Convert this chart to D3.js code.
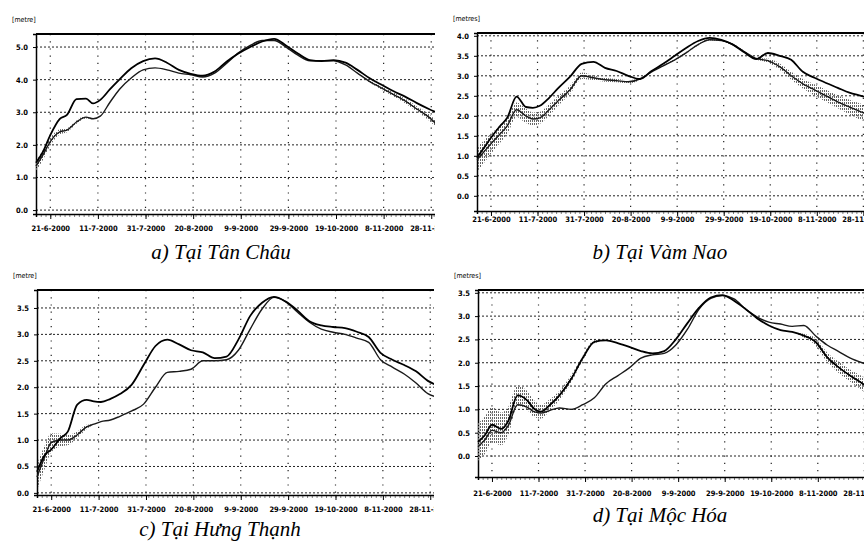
<!DOCTYPE html>
<html>
<head>
<meta charset="utf-8">
<script src="https://cdn.jsdelivr.net/npm/d3@7"></script>
<style>
  body { margin: 0; background: #fff; }
  svg { display: block; }
</style>
</head>
<body>
<svg id="chart" width="864" height="542"></svg>
<script>
// sample dates (year 2000), same for every station
const dates = ['15-6', '18-6', '21-6', '25-6', '28-6', '2-7', '6-7', '9-7', '12-7', '16-7',
  '20-7', '25-7', '30-7', '4-8', '9-8', '14-8', '19-8', '24-8', '29-8', '3-9',
  '8-9', '13-9', '18-9', '23-9', '28-9', '3-10', '8-10', '13-10', '18-10', '23-10',
  '28-10', '2-11', '7-11', '12-11', '17-11', '22-11', '27-11', '30-11']

// a) Tan Chau
const tanChau1 = [1.45, 1.8, 2.3, 2.8, 2.92, 3.4, 3.42, 3.27, 3.38, 3.7,
  4.0, 4.35, 4.57, 4.65, 4.52, 4.3, 4.18, 4.12, 4.25, 4.55,
  4.8, 5.0, 5.17, 5.25, 5.05, 4.8, 4.6, 4.57, 4.6, 4.52,
  4.3, 4.05, 3.85, 3.65, 3.48, 3.28, 3.1, 3.0]
const tanChau2 = [1.35, 1.7, 2.1, 2.4, 2.45, 2.7, 2.85, 2.8, 2.88, 3.3,
  3.7, 4.05, 4.3, 4.36, 4.3, 4.2, 4.15, 4.08, 4.2, 4.5,
  4.82, 5.05, 5.2, 5.2, 5.0, 4.75, 4.58, 4.58, 4.58, 4.45,
  4.2, 3.95, 3.75, 3.55, 3.35, 3.1, 2.85, 2.65]
// half width of the tidal scatter (m)
const tanChauTide = [0.15, 0.15, 0.12, 0.08, 0.06, 0.05, 0.04, 0, 0, 0,
  0, 0, 0, 0, 0, 0, 0, 0, 0, 0,
  0, 0, 0, 0, 0, 0, 0, 0, 0, 0,
  0, 0.03, 0.05, 0.06, 0.07, 0.08, 0.1, 0.1]

// b) Vam Nao
const vamNao1 = [0.95, 1.2, 1.45, 1.75, 1.95, 2.48, 2.22, 2.2, 2.25, 2.45,
  2.7, 2.98, 3.3, 3.35, 3.2, 3.12, 3.0, 2.92, 3.12, 3.3,
  3.5, 3.7, 3.87, 3.95, 3.9, 3.78, 3.58, 3.42, 3.57, 3.5,
  3.4, 3.1, 2.95, 2.82, 2.7, 2.58, 2.5, 2.45]
const vamNao2 = [0.9, 1.1, 1.3, 1.55, 1.75, 2.15, 2.0, 1.92, 1.95, 2.15,
  2.38, 2.65, 3.0, 2.95, 2.9, 2.88, 2.85, 2.92, 3.1, 3.25,
  3.4, 3.58, 3.78, 3.9, 3.88, 3.78, 3.6, 3.43, 3.38, 3.23,
  3.0, 2.8, 2.65, 2.5, 2.35, 2.22, 2.1, 2.05]
const vamNaoTide = [0.3, 0.28, 0.25, 0.22, 0.2, 0.18, 0.18, 0.16, 0.15, 0.14,
  0.12, 0.1, 0.08, 0.06, 0.05, 0.04, 0.04, 0.03, 0.02, 0.02,
  0.02, 0.02, 0.02, 0.02, 0.02, 0.02, 0.02, 0.02, 0.05, 0.08,
  0.1, 0.12, 0.14, 0.15, 0.16, 0.18, 0.2, 0.2]

// c) Hung Thanh
const hungThanh1 = [0.4, 0.7, 0.82, 1.04, 1.16, 1.67, 1.76, 1.73, 1.72, 1.78,
  1.87, 2.05, 2.42, 2.78, 2.9, 2.81, 2.7, 2.66, 2.55, 2.58,
  2.9, 3.35, 3.6, 3.71, 3.62, 3.45, 3.25, 3.17, 3.14, 3.12,
  3.05, 2.95, 2.65, 2.52, 2.42, 2.3, 2.12, 2.05]
const hungThanh2 = [0.3, 0.65, 0.95, 1.0, 1.0, 1.1, 1.25, 1.3, 1.35, 1.38,
  1.45, 1.55, 1.68, 2.0, 2.28, 2.3, 2.34, 2.5, 2.5, 2.52,
  2.7, 3.1, 3.48, 3.7, 3.62, 3.42, 3.23, 3.1, 3.04, 3.0,
  2.93, 2.85, 2.52, 2.38, 2.25, 2.08, 1.88, 1.82]
const hungThanhTide = [0.25, 0.22, 0.18, 0.12, 0.1, 0.06, 0.04, 0, 0, 0,
  0, 0, 0, 0, 0, 0, 0, 0, 0, 0,
  0, 0, 0, 0, 0, 0, 0, 0, 0, 0,
  0, 0, 0, 0, 0, 0, 0, 0]

// d) Moc Hoa
const mocHoa1 = [0.3, 0.45, 0.67, 0.58, 0.75, 1.3, 1.2, 1.02, 0.95, 1.1,
  1.3, 1.65, 2.1, 2.45, 2.48, 2.42, 2.34, 2.25, 2.2, 2.25,
  2.5, 2.85, 3.18, 3.4, 3.45, 3.33, 3.15, 2.95, 2.8, 2.7,
  2.66, 2.58, 2.45, 2.12, 1.9, 1.72, 1.56, 1.45]
const mocHoa2 = [0.2, 0.35, 0.55, 0.5, 0.65, 1.1, 1.05, 0.95, 0.92, 0.98,
  1.03, 1.0, 1.1, 1.25, 1.55, 1.72, 1.89, 2.1, 2.17, 2.2,
  2.38, 2.72, 3.15, 3.38, 3.44, 3.37, 3.15, 2.98, 2.87, 2.83,
  2.78, 2.8, 2.58, 2.38, 2.24, 2.1, 2.0, 1.95]
const mocHoaTide = [0.4, 0.4, 0.38, 0.35, 0.3, 0.22, 0.2, 0.18, 0.15, 0.12,
  0.1, 0.08, 0.05, 0.03, 0.02, 0, 0, 0, 0, 0,
  0, 0, 0, 0, 0, 0, 0, 0, 0, 0,
  0, 0.04, 0.08, 0.1, 0.12, 0.13, 0.15, 0.15]

const tickDates = ['21-6', '11-7', '31-7', '20-8', '9-9', '29-9', '19-10', '8-11', '28-11']
const captions = ['a) Tại Tân Châu', 'b) Tại Vàm Nao', 'c) Tại Hưng Thạnh', 'd) Tại Mộc Hóa']
const units = ['[metre]', '[metres]', '[metre]', '[metres]']

const parseDay = d3.timeParse('%d-%m-%Y')
const toDate = (s) => parseDay(s + '-2000')
const fmtTick = (d) => d3.timeFormat('%-d-%-m-%Y')(d)
const smallFont = 'DejaVu Sans Condensed, Liberation Sans Narrow, sans-serif'

// layout for the 4 panels (tideOn: which series carries the tidal scatter)
const panels = [
  { s1: tanChau1, s2: tanChau2, tide: tanChauTide, tideOn: 2, yTicks: [0, 1, 2, 3, 4, 5], yDomain: [-0.12, 5.4], left: 36, right: 436, top: 34, bottom: 214, clip: 435, labelY: 232, capX: 221, capY: 259 },
  { s1: vamNao1, s2: vamNao2, tide: vamNaoTide, tideOn: 2, yTicks: d3.range(0, 4.01, 0.5), yDomain: [-0.38, 4.07], left: 477, right: 868, top: 33, bottom: 211, clip: 864, labelY: 223, capX: 660, capY: 259 },
  { s1: hungThanh1, s2: hungThanh2, tide: hungThanhTide, tideOn: 2, yTicks: d3.range(0, 3.51, 0.5), yDomain: [-0.04, 3.84], left: 37, right: 435, top: 290, bottom: 495, clip: 434, labelY: 513, capX: 220, capY: 536 },
  { s1: mocHoa1, s2: mocHoa2, tide: mocHoaTide, tideOn: 1, yTicks: d3.range(0, 3.51, 0.5), yDomain: [-0.45, 3.56], left: 478, right: 869, top: 290, bottom: 477, clip: 864, labelY: 497, capX: 660, capY: 522 }
]

const svg = d3.select('#chart')
const start = toDate('15-6')
const end = toDate('30-11')

// vertical hatch used for the tidal scatter
svg.append('defs')
  .append('pattern')
  .attr('id', 'hatch')
  .attr('width', 2).attr('height', 3)
  .attr('patternUnits', 'userSpaceOnUse')
  .append('rect')
  .attr('width', 1).attr('height', 2)
  .attr('fill', '#666')

panels.forEach((p, i) => {
  const g = svg.append('g')

  const clipId = 'clip' + i
  svg.append('clipPath').attr('id', clipId)
    .append('rect')
    .attr('x', p.left - 40).attr('y', p.top - 40)
    .attr('width', p.clip - p.left + 40).attr('height', p.bottom - p.top + 80)
  g.attr('clip-path', 'url(#' + clipId + ')')

  const x = d3.scaleTime().domain([start, end]).range([p.left, p.right])
  const y = d3.scaleLinear().domain(p.yDomain).range([p.bottom, p.top])

  //* * grid
  g.selectAll('.hgrid')
    .data(p.yTicks)
    .enter().append('line')
    .attr('class', 'hgrid')
    .attr('x1', p.left).attr('x2', p.right)
    .attr('y1', (d) => y(d)).attr('y2', (d) => y(d))
    .attr('stroke', '#222')
    .attr('stroke-width', 1)
    .attr('stroke-dasharray', '2,2')

  g.selectAll('.vgrid')
    .data(tickDates.map(toDate))
    .enter().append('line')
    .attr('class', 'vgrid')
    .attr('x1', (d) => x(d)).attr('x2', (d) => x(d))
    .attr('y1', p.top).attr('y2', p.bottom)
    .attr('stroke', '#222')
    .attr('stroke-width', 1.2)
    .attr('stroke-dasharray', '1.2,6')

  //* * axes
  g.append('line')
    .attr('x1', p.left).attr('x2', p.right)
    .attr('y1', p.top).attr('y2', p.top)
    .attr('stroke', '#000').attr('stroke-width', 2)

  const yAxis = d3.axisLeft(y)
    .tickValues(p.yTicks)
    .tickSize(3)
    .tickFormat(d3.format('.1f'))
  g.append('g')
    .attr('transform', 'translate(' + p.left + ',0)')
    .call(yAxis)
    .call((a) => a.select('.domain').attr('stroke-width', 1.5))
    .selectAll('text')
    .attr('font-size', 7.5)
    .attr('font-weight', 'bold')
    .attr('font-family', smallFont)
    .attr('dx', -2)

  // minor ticks every 2 days, labels every 20 days
  const xMinor = d3.axisBottom(x)
    .ticks(d3.timeDay.every(2))
    .tickSize(3)
    .tickFormat('')
  g.append('g')
    .attr('transform', 'translate(0,' + p.bottom + ')')
    .call(xMinor)
    .call((a) => a.select('.domain').attr('stroke-width', 1.5))
    .selectAll('.tick line')
    .attr('stroke-dasharray', '1.5,1')

  const xAxis = d3.axisBottom(x)
    .tickValues(tickDates.map(toDate))
    .tickSize(5)
    .tickFormat(fmtTick)
  g.append('g')
    .attr('transform', 'translate(0,' + p.bottom + ')')
    .call(xAxis)
    .call((a) => a.select('.domain').remove())
    .selectAll('text')
    .attr('y', p.labelY - p.bottom - 6)
    .attr('font-size', 7.5)
    .attr('font-weight', 'bold')
    .attr('font-family', smallFont)

  //* * tidal scatter + lines
  const rows1 = dates.map((s, k) => ({ date: toDate(s), v: p.s1[k], t: p.tide[k] }))
  const rows2 = dates.map((s, k) => ({ date: toDate(s), v: p.s2[k], t: p.tide[k] }))

  const band = d3.area()
    .x((d) => x(d.date))
    .y0((d) => y(d.v - d.t))
    .y1((d) => y(d.v + d.t))
    .curve(d3.curveMonotoneX)

  g.append('path')
    .datum(p.tideOn === 1 ? rows1 : rows2)
    .attr('fill', 'url(#hatch)')
    .attr('d', band)

  const line = d3.line()
    .x((d) => x(d.date))
    .y((d) => y(d.v))
    .curve(d3.curveMonotoneX)

  g.append('path')
    .datum(rows2)
    .attr('fill', 'none')
    .attr('stroke', '#1a1a1a')
    .attr('stroke-width', 1.4)
    .attr('d', line)

  g.append('path')
    .datum(rows1)
    .attr('fill', 'none')
    .attr('stroke', '#000')
    .attr('stroke-width', 1.8)
    .attr('d', line)

  //* * texts
  svg.append('text')
    .attr('x', p.left - 24).attr('y', p.top - 12)
    .attr('font-size', 7)
    .attr('font-family', smallFont)
    .text(units[i])

  svg.append('text')
    .attr('x', p.capX).attr('y', p.capY)
    .attr('text-anchor', 'middle')
    .attr('font-size', 21)
    .attr('font-style', 'italic')
    .attr('font-family', 'Liberation Serif, Times New Roman, serif')
    .text(captions[i])
})
</script>
</body>
</html>
